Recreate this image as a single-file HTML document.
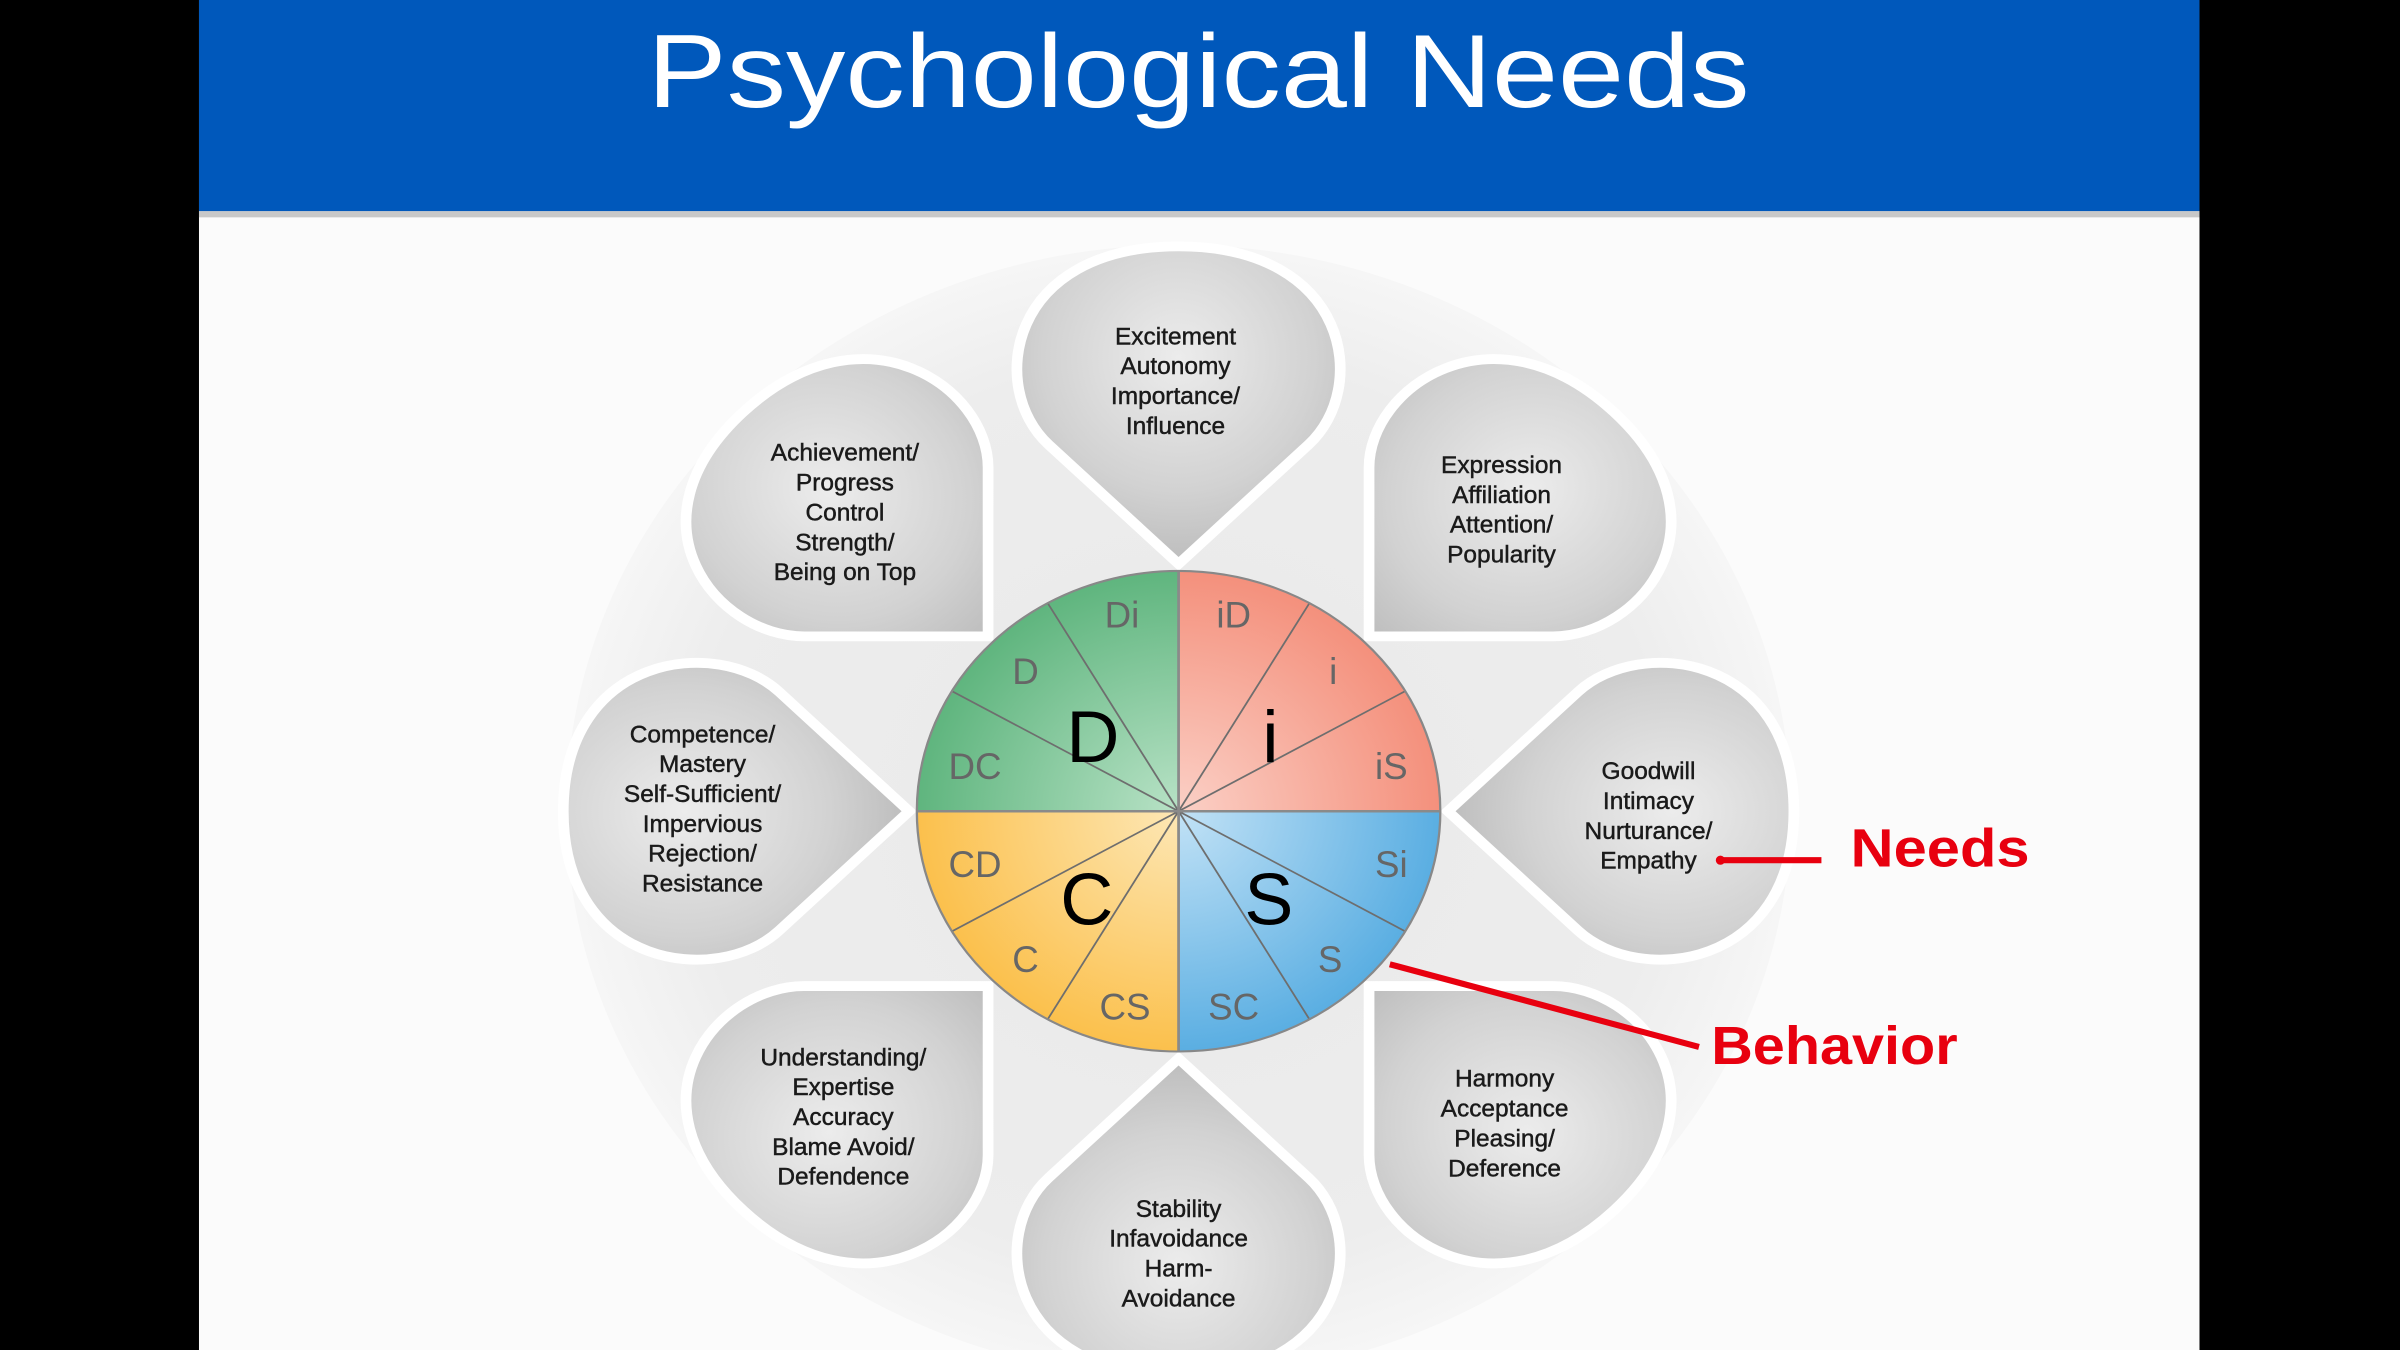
<!DOCTYPE html>
<html><head><meta charset="utf-8"><style>
html,body{margin:0;padding:0;background:#000;}
svg{display:block;}
</style></head><body>
<svg width="2400" height="1350" viewBox="0 0 1568 882" xmlns="http://www.w3.org/2000/svg" font-family="Liberation Sans, Arial, sans-serif">
<defs>
<radialGradient id="pg" cx="0.5" cy="0.35" r="0.7">
<stop offset="0" stop-color="#ececec"/><stop offset="0.6" stop-color="#d2d2d2"/><stop offset="1" stop-color="#b8b8b8"/>
</radialGradient>
<radialGradient id="bgE" cx="0.5" cy="0.5" r="0.5">
<stop offset="0" stop-color="#e9e9e9"/><stop offset="0.8" stop-color="#ededed"/><stop offset="1" stop-color="#f6f6f6"/>
</radialGradient>
<radialGradient id="gG" cx="0" cy="0" r="171" gradientUnits="userSpaceOnUse"><stop offset="0" stop-color="#b8e2c6"/><stop offset="1" stop-color="#5fb57e"/></radialGradient>
<radialGradient id="gR" cx="0" cy="0" r="171" gradientUnits="userSpaceOnUse"><stop offset="0" stop-color="#fbd0c6"/><stop offset="1" stop-color="#f4907c"/></radialGradient>
<radialGradient id="gB" cx="0" cy="0" r="171" gradientUnits="userSpaceOnUse"><stop offset="0" stop-color="#c2e2f6"/><stop offset="1" stop-color="#5aaee2"/></radialGradient>
<radialGradient id="gY" cx="0" cy="0" r="171" gradientUnits="userSpaceOnUse"><stop offset="0" stop-color="#fde7b5"/><stop offset="1" stop-color="#fbc04c"/></radialGradient>
<path id="petal" d="M0,0 L-85,-85 C-125,-125 -112,-226 0,-226 C112,-226 125,-125 85,-85 Z"/>
</defs>
<rect x="0" y="0" width="1568" height="882" fill="#000"/>
<rect x="130" y="0" width="1307" height="882" fill="#fbfbfb"/>
<rect x="130" y="0" width="1307" height="138" fill="#0058bb"/>
<rect x="130" y="138" width="1307" height="4" fill="#c8c8c8"/>
<text x="423" y="70" font-size="68" fill="#fff" textLength="720" lengthAdjust="spacingAndGlyphs">Psychological Needs</text>

<ellipse cx="770" cy="530" rx="400" ry="370" fill="url(#bgE)"/>

<g transform="translate(770,530) scale(1,0.918)" fill="url(#pg)" stroke="#fff" stroke-width="7">
<use href="#petal" transform="rotate(0) translate(0,-176)"/>
<use href="#petal" transform="rotate(45) translate(0,-176)"/>
<use href="#petal" transform="rotate(90) translate(0,-176)"/>
<use href="#petal" transform="rotate(135) translate(0,-176)"/>
<use href="#petal" transform="rotate(180) translate(0,-176)"/>
<use href="#petal" transform="rotate(225) translate(0,-176)"/>
<use href="#petal" transform="rotate(270) translate(0,-176)"/>
<use href="#petal" transform="rotate(315) translate(0,-176)"/>
</g>

<g transform="translate(770,530) scale(1,0.918)">
<path d="M0,0 L0,-171 A171,171 0 0 1 171,0 Z" fill="url(#gR)"/>
<path d="M0,0 L171,0 A171,171 0 0 1 0,171 Z" fill="url(#gB)"/>
<path d="M0,0 L0,171 A171,171 0 0 1 -171,0 Z" fill="url(#gY)"/>
<path d="M0,0 L-171,0 A171,171 0 0 1 0,-171 Z" fill="url(#gG)"/>
<g stroke="#6e6e6e" stroke-width="1.2">
<line x1="0" y1="0" x2="85.5" y2="-148.1"/><line x1="0" y1="0" x2="148.1" y2="-85.5"/>
<line x1="0" y1="0" x2="148.1" y2="85.5"/><line x1="0" y1="0" x2="85.5" y2="148.1"/>
<line x1="0" y1="0" x2="-85.5" y2="148.1"/><line x1="0" y1="0" x2="-148.1" y2="85.5"/>
<line x1="0" y1="0" x2="-148.1" y2="-85.5"/><line x1="0" y1="0" x2="-85.5" y2="-148.1"/>
</g>
<g stroke="#8a8a8a" stroke-width="1.8">
<line x1="0" y1="-171" x2="0" y2="171"/><line x1="-171" y1="0" x2="171" y2="0"/>
</g>
<circle r="171" fill="none" stroke="#888" stroke-width="1.5"/>
</g>

<g font-size="24" fill="#666" text-anchor="middle">
<text x="733" y="410">Di</text><text x="806" y="410">iD</text>
<text x="670" y="447">D</text><text x="871" y="447">i</text>
<text x="637" y="509">DC</text><text x="909" y="509">iS</text>
<text x="637" y="573">CD</text><text x="909" y="573">Si</text>
<text x="670" y="635">C</text><text x="869" y="635">S</text>
<text x="735" y="666">CS</text><text x="806" y="666">SC</text>
</g>
<g font-size="48" fill="#000" text-anchor="middle">
<text x="714" y="498">D</text><text x="830" y="498">i</text>
<text x="710" y="604">C</text><text x="829" y="604">S</text>
</g>

<g font-size="16" fill="#1a1a1a" text-anchor="middle" stroke="#1a1a1a" stroke-width="0.3">
<text x="768" y="225">Excitement</text><text x="768" y="244.5">Autonomy</text><text x="768" y="264">Importance/</text><text x="768" y="283.5">Influence</text>
<text x="552" y="301">Achievement/</text><text x="552" y="320.5">Progress</text><text x="552" y="340">Control</text><text x="552" y="359.5">Strength/</text><text x="552" y="379">Being on Top</text>
<text x="981" y="309">Expression</text><text x="981" y="328.5">Affiliation</text><text x="981" y="348">Attention/</text><text x="981" y="367.5">Popularity</text>
<text x="459" y="485">Competence/</text><text x="459" y="504.5">Mastery</text><text x="459" y="524">Self-Sufficient/</text><text x="459" y="543.5">Impervious</text><text x="459" y="563">Rejection/</text><text x="459" y="582.5">Resistance</text>
<text x="1077" y="509">Goodwill</text><text x="1077" y="528.5">Intimacy</text><text x="1077" y="548">Nurturance/</text><text x="1077" y="567.5">Empathy</text>
<text x="551" y="696">Understanding/</text><text x="551" y="715.5">Expertise</text><text x="551" y="735">Accuracy</text><text x="551" y="754.5">Blame Avoid/</text><text x="551" y="774">Defendence</text>
<text x="770" y="795">Stability</text><text x="770" y="814.5">Infavoidance</text><text x="770" y="834">Harm-</text><text x="770" y="853.5">Avoidance</text>
<text x="983" y="710">Harmony</text><text x="983" y="729.5">Acceptance</text><text x="983" y="749">Pleasing/</text><text x="983" y="768.5">Deference</text>
</g>

<g fill="#e8000f">
<line x1="1124" y1="562" x2="1190" y2="562" stroke="#e8000f" stroke-width="4"/>
<circle cx="1124" cy="562" r="3"/>
<text x="1209" y="566" font-size="35" font-weight="bold" textLength="117" lengthAdjust="spacingAndGlyphs">Needs</text>
<line x1="908" y1="630" x2="1110" y2="684" stroke="#e8000f" stroke-width="4"/>
<text x="1118" y="695" font-size="35" font-weight="bold" textLength="161" lengthAdjust="spacingAndGlyphs">Behavior</text>
</g>
</svg>
</body></html>
